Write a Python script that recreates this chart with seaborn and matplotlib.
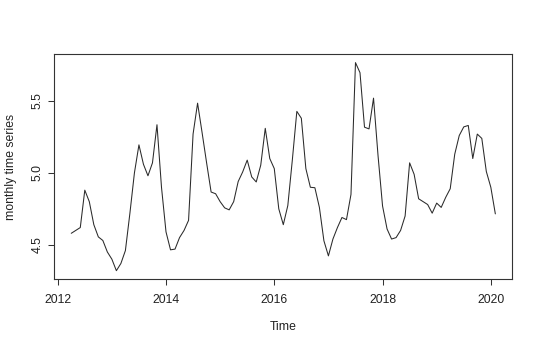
import numpy as np
import pandas as pd
import matplotlib
matplotlib.use("Agg")
import matplotlib.pyplot as plt
import seaborn as sns

# Monthly series, April 2012 .. February 2020
start_year = 2012
start_month = 4
values = [
    4.58, 4.60, 4.62, 4.88, 4.80, 4.64, 4.555, 4.53, 4.45, 4.40, 4.32, 4.37,
    4.46, 4.72, 5.00, 5.195, 5.06, 4.98, 5.07, 5.335, 4.90, 4.59, 4.465, 4.47,
    4.55, 4.60, 4.67, 5.27, 5.485, 5.28, 5.07, 4.867, 4.855, 4.80, 4.757, 4.743,
    4.80, 4.94, 5.007, 5.089, 4.972, 4.937, 5.054, 5.31, 5.10, 5.03, 4.75, 4.64,
    4.773, 5.089, 5.428, 5.38, 5.03, 4.90, 4.897, 4.76, 4.528, 4.423, 4.54, 4.62,
    4.69, 4.675, 4.85, 5.767, 5.697, 5.318, 5.306, 5.52, 5.12, 4.77, 4.61, 4.54,
    4.55, 4.60, 4.70, 5.07, 4.99, 4.82, 4.80, 4.78, 4.72, 4.79, 4.76, 4.83,
    4.89, 5.13, 5.26, 5.32, 5.33, 5.10, 5.27, 5.24, 5.01, 4.90, 4.715,
]
x_ticks = [2012, 2014, 2016, 2018, 2020]
y_ticks = [4.5, 5.0, 5.5]
y_tick_labels = ["4.5", "5.0", "5.5"]
x_label = "Time"
y_label = "monthly time series"

time = start_year + (start_month - 1) / 12 + np.arange(len(values)) / 12
df = pd.DataFrame({"time": time, "value": values})

sns.set_style("white")
plt.rcParams["font.family"] = ["Liberation Sans", "DejaVu Sans"]

fig = plt.figure(figsize=(5.40, 3.47), dpi=100)
ax = fig.add_axes([54.3 / 540, 1 - 279.0 / 347, (512.3 - 54.3) / 540, (279.0 - 54.3) / 347])

sns.lineplot(data=df, x="time", y="value", ax=ax, color="#2a2a2a", linewidth=0.75)

# R-style 4% padding
t0, t1 = time.min(), time.max()
v0, v1 = min(values), max(values)
ax.set_xlim(t0 - 0.04 * (t1 - t0), t1 + 0.04 * (t1 - t0))
ax.set_ylim(v0 - 0.04 * (v1 - v0), v1 + 0.04 * (v1 - v0))

ax.set_xticks(x_ticks)
ax.set_xticklabels([str(t) for t in x_ticks])
ax.set_yticks(y_ticks)
ax.set_yticklabels(y_tick_labels, rotation=90, va="center")

ax.tick_params(axis="both", direction="out", length=4.5, width=0.75,
               color="#333333", labelsize=8.8, labelcolor="#222222",
               bottom=True, left=True)
ax.tick_params(axis="x", pad=6)
ax.tick_params(axis="y", pad=3)

for s in ax.spines.values():
    s.set_visible(True)
    s.set_color("#333333")
    s.set_linewidth(0.8)

ax.set_xlabel(x_label, fontsize=8.8, color="#222222")
ax.set_ylabel(y_label, fontsize=8.8, color="#222222")
ax.xaxis.set_label_coords(0.5, -0.215)
ax.yaxis.set_label_coords(-0.095, 0.5)
ax.xaxis.label.set_va("center")
ax.yaxis.label.set_va("center")

fig.savefig("out.png", dpi=100, facecolor="white")
